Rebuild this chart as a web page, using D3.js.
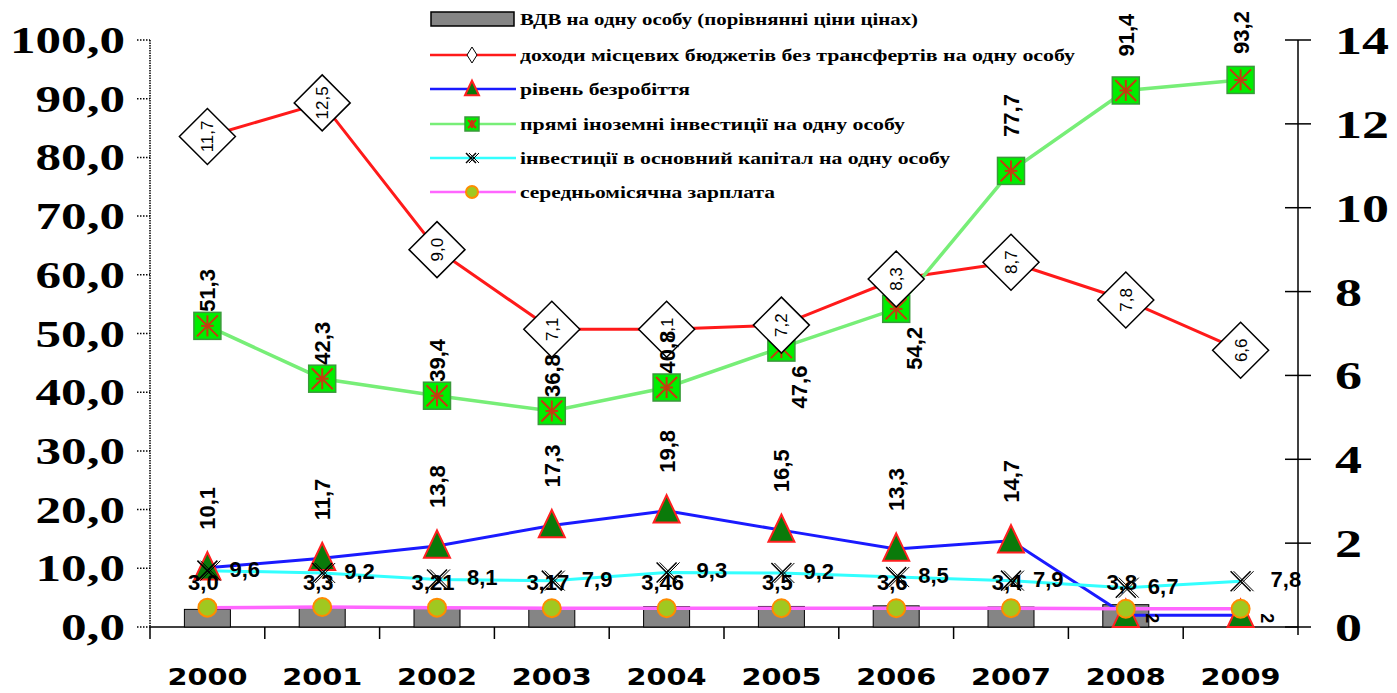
<!DOCTYPE html>
<html><head><meta charset="utf-8">
<script src="https://cdn.jsdelivr.net/npm/d3@7"></script>
<style>body{margin:0;background:#fff}svg{display:block}</style>
</head><body>
<script>
// ---- data ----
const years = ["2000","2001","2002","2003","2004","2005","2006","2007","2008","2009"];
const gdp = [3.0,3.3,3.21,3.17,3.46,3.5,3.6,3.4,3.8,null];          // left axis, bars
const budget = [11.7,12.5,9.0,7.1,7.1,7.2,8.3,8.7,7.8,6.6];          // right axis
const unemployment = [10.1,11.7,13.8,17.3,19.8,16.5,13.3,14.7,2,2];  // left axis
const fdi = [51.3,42.3,39.4,36.8,40.8,47.6,54.2,77.7,91.4,93.2];      // left axis
const capInv = [9.6,9.2,8.1,7.9,9.3,9.2,8.5,7.9,6.7,7.8];            // left axis
const wage = [3.3,3.4,3.3,3.2,3.2,3.2,3.2,3.2,3.1,3.1];              // left axis
const leftTicks = [0,10,20,30,40,50,60,70,80,90,100];
const rightTicks = [0,2,4,6,8,10,12,14];
const legendLabels = [
  "ВДВ на одну особу (порівнянні ціни цінах)",
  "доходи місцевих бюджетів без трансфертів на одну особу",
  "рівень безробіття",
  "прямі іноземні інвестиції на одну особу",
  "інвестиції в основний капітал на одну особу",
  "середньомісячна зарплата"
];

const W = 1397, H = 693;
const svg = d3.select("body").append("svg").attr("width", W).attr("height", H);
const x = d3.scaleBand().domain(years).range([150, 1298]);
const yL = d3.scaleLinear().domain([0,100]).range([627, 40]);
const yR = d3.scaleLinear().domain([0,14]).range([627, 40]);
const cx = d => x(d) + x.bandwidth()/2;
const fmt = v => (v % 1 === 0 && v !== 2 ? v.toFixed(1) : String(v)).replace(".", ",");
const fmtTick = v => v.toFixed(1).replace(".", ",");

// ---- axes ----
const gL = svg.append("g");
gL.append("line").attr("x1",150).attr("x2",150).attr("y1",yL(100)).attr("y2",yL(0))
  .attr("stroke","#000").attr("stroke-width",1.5).attr("stroke-dasharray","1.5,1");
leftTicks.forEach(t => {
  gL.append("line").attr("x1",137).attr("x2",150).attr("y1",yL(t)).attr("y2",yL(t))
    .attr("stroke","#000").attr("stroke-width",1.5).attr("stroke-dasharray","1.5,1.5");
  const s = fmtTick(t);
  const len = (s.length-1)*25.5 + 13;
  gL.append("text").attr("x",125).attr("y",yL(t)+13).attr("text-anchor","end")
    .attr("font-family","Liberation Serif").attr("font-weight","bold").attr("font-size",38)
    .attr("textLength",len).attr("lengthAdjust","spacingAndGlyphs").text(s);
});
const gR = svg.append("g");
gR.append("line").attr("x1",1298).attr("x2",1298).attr("y1",yR(14)).attr("y2",yR(0)+8)
  .attr("stroke","#000").attr("stroke-width",1.5);
rightTicks.forEach(t => {
  gR.append("line").attr("x1",1285).attr("x2",1311).attr("y1",yR(t)).attr("y2",yR(t))
    .attr("stroke","#000").attr("stroke-width",1.5);
  const s = String(t);
  gR.append("text").attr("x",1335).attr("y",yR(t)+14)
    .attr("font-family","Liberation Serif").attr("font-weight","bold").attr("font-size",40)
    .attr("textLength",s.length*27).attr("lengthAdjust","spacingAndGlyphs").text(s);
});
const gB = svg.append("g");
gB.append("line").attr("x1",150).attr("x2",1298).attr("y1",627).attr("y2",627).attr("stroke","#000").attr("stroke-width",1.5);
years.forEach((yr,i) => {
  gB.append("line").attr("x1",x(yr)).attr("x2",x(yr)).attr("y1",627).attr("y2",639).attr("stroke","#000").attr("stroke-width",1.5);
  gB.append("text").attr("x",cx(yr)).attr("y",685).attr("text-anchor","middle")
    .attr("font-family","DejaVu Sans").attr("font-weight","bold").attr("font-size",23)
    .attr("textLength",80).attr("lengthAdjust","spacingAndGlyphs").text(yr);
});

// ---- bars ----
const bw = 46;
svg.append("g").selectAll("rect").data(years.map((y,i)=>({y,v:gdp[i]})).filter(d=>d.v!=null))
  .join("rect").attr("x",d=>cx(d.y)-bw/2).attr("width",bw).attr("y",d=>yL(d.v)).attr("height",d=>yL(0)-yL(d.v))
  .attr("fill","#858585").attr("stroke","#000").attr("stroke-width",1);

// ---- lines ----
function drawLine(vals, ys, color, w) {
  svg.append("path").datum(vals.map((v,i)=>[cx(years[i]), ys(v)]))
    .attr("d", d3.line()).attr("fill","none").attr("stroke",color).attr("stroke-width",w);
}
drawLine(budget, yR, "#ff1a1a", 3);
drawLine(unemployment, yL, "#1a1aff", 3);
drawLine(fdi, yL, "#77ee77", 3.5);
drawLine(capInv, yL, "#33ffff", 3);
drawLine(wage, yL, "#ff66ff", 3.5);

// ---- marker helpers ----
function triangle(g, px, py, s) {
  g.append("path").attr("d",`M${px},${py-s*0.6}L${px+s/2},${py+s*0.45}L${px-s/2},${py+s*0.45}Z`)
    .attr("fill","#0a7a0a").attr("stroke","#ff2020").attr("stroke-width",2);
}
function square(g, px, py, s) {
  g.append("rect").attr("x",px-s/2).attr("y",py-s/2).attr("width",s).attr("height",s)
    .attr("fill","#00ee00").attr("stroke","#3a9a3a").attr("stroke-width",1.5);
  const r = s/2-3;
  [[0,-r,0,r],[-r,-r,r,r],[-r,r,r,-r]].forEach(l =>
    g.append("line").attr("x1",px+l[0]).attr("y1",py+l[1]).attr("x2",px+l[2]).attr("y2",py+l[3])
      .attr("stroke","#c83a10").attr("stroke-width",2));
  g.append("line").attr("x1",px-r*0.6).attr("x2",px+r*0.6).attr("y1",py).attr("y2",py).attr("stroke","#c83a10").attr("stroke-width",2);
}
function cross(g, px, py, s) {
  const r = s/2;
  [[-r,-r,r,r],[-r,r,r,-r]].forEach(l => {
    g.append("line").attr("x1",px+l[0]).attr("y1",py+l[1]).attr("x2",px+l[2]).attr("y2",py+l[3]).attr("stroke","#000").attr("stroke-width",1.5);
    g.append("line").attr("x1",px+l[0]+3).attr("y1",py+l[1]).attr("x2",px+l[2]+3).attr("y2",py+l[3]).attr("stroke","#000").attr("stroke-width",1);
  });
}
function dot(g, px, py, r) {
  g.append("circle").attr("cx",px).attr("cy",py).attr("r",r).attr("fill","#a0c820").attr("stroke","#ff8c00").attr("stroke-width",2);
}
function diamond(g, px, py, r) {
  g.append("path").attr("d",`M${px},${py-r}L${px+r},${py}L${px},${py+r}L${px-r},${py}Z`)
    .attr("fill","#fff").attr("stroke","#000").attr("stroke-width",1.5);
}
const lblFont = sel => sel.attr("font-family","Liberation Sans").attr("font-weight","bold").attr("font-size",22);

// ---- markers ----
const gm = svg.append("g");
years.forEach((yr,i) => triangle(gm, cx(yr), yL(unemployment[i]), 26));
years.forEach((yr,i) => cross(gm, cx(yr), yL(capInv[i]), 20));
years.forEach((yr,i) => dot(gm, cx(yr), yL(wage[i]), 9));
years.forEach((yr,i) => square(gm, cx(yr), yL(fdi[i]), 27));

// ---- labels ----
const gl = svg.append("g");
years.forEach((yr,i) => {
  if (gdp[i]==null) return;
  gl.append("text").call(lblFont).attr("x",cx(yr)-4).attr("y",590).attr("text-anchor","middle").text(fmt(gdp[i]));
});
years.forEach((yr,i) => {
  const off = String(gdp[i]).length > 3 ? 30 : 22;
  gl.append("text").call(lblFont).attr("x",cx(yr)+off).attr("y",yL(capInv[i])+6).text(fmt(capInv[i]));
});
years.forEach((yr,i) => {
  const px = cx(yr), py = yL(unemployment[i]);
  if (unemployment[i] < 5) {
    gl.append("text").call(lblFont).attr("font-size",18).attr("transform",`translate(${px+20},${py-2}) rotate(90)`).text(String(unemployment[i]));
  } else {
    gl.append("text").call(lblFont).attr("transform",`translate(${px+8},${py-38}) rotate(-90)`).text(fmt(unemployment[i]));
  }
});
years.forEach((yr,i) => {
  const px = cx(yr), py = yR(budget[i]);
  diamond(gl, px, py, 28);
  gl.append("text").attr("font-family","Liberation Sans").attr("font-size",17)
    .attr("text-anchor","middle").attr("transform",`translate(${px+6},${py}) rotate(-90)`).text(fmt(budget[i]));
});
years.forEach((yr,i) => {
  const px = cx(yr), py = yL(fdi[i]);
  if (i===5 || i===6) {
    gl.append("text").call(lblFont).attr("text-anchor","end").attr("transform",`translate(${px+26},${py+18}) rotate(-90)`).text(fmt(fdi[i]));
  } else {
    const gap = i===7 || i===8 ? 34 : (i===9 ? 26 : 14);
    gl.append("text").call(lblFont).attr("transform",`translate(${px+8},${py-gap}) rotate(-90)`).text(fmt(fdi[i]));
  }
});

// ---- legend ----
const lg = svg.append("g");
const rowsY = [19, 55, 89, 124, 158, 192];
const textW = [398, 555, 170, 385, 430, 255];
const lineCols = [null, "#ff1a1a", "#1a1aff", "#77ee77", "#33ffff", "#ff66ff"];
rowsY.forEach((ry,i) => {
  if (i===0) {
    lg.append("rect").attr("x",431).attr("y",ry-7).attr("width",83).attr("height",14).attr("fill","#858585").attr("stroke","#000").attr("stroke-width",1.5);
  } else {
    lg.append("line").attr("x1",430).attr("x2",516).attr("y1",ry).attr("y2",ry).attr("stroke",lineCols[i]).attr("stroke-width",2.5);
    const mx = 472;
    if (i===1) { lg.append("path").attr("d",`M${mx},${ry-8}L${mx+5},${ry}L${mx},${ry+8}L${mx-5},${ry}Z`).attr("fill","#fff").attr("stroke","#000"); }
    if (i===2) triangle(lg, mx, ry, 14);
    if (i===3) square(lg, mx, ry, 14);
    if (i===4) cross(lg, mx-1, ry, 10);
    if (i===5) dot(lg, mx, ry, 6);
  }
  lg.append("text").attr("x",520).attr("y",ry+6).attr("font-family","Liberation Serif").attr("font-weight","bold")
    .attr("font-size",17).attr("textLength",textW[i]).attr("lengthAdjust","spacingAndGlyphs").text(legendLabels[i]);
});
</script>
</body></html>
